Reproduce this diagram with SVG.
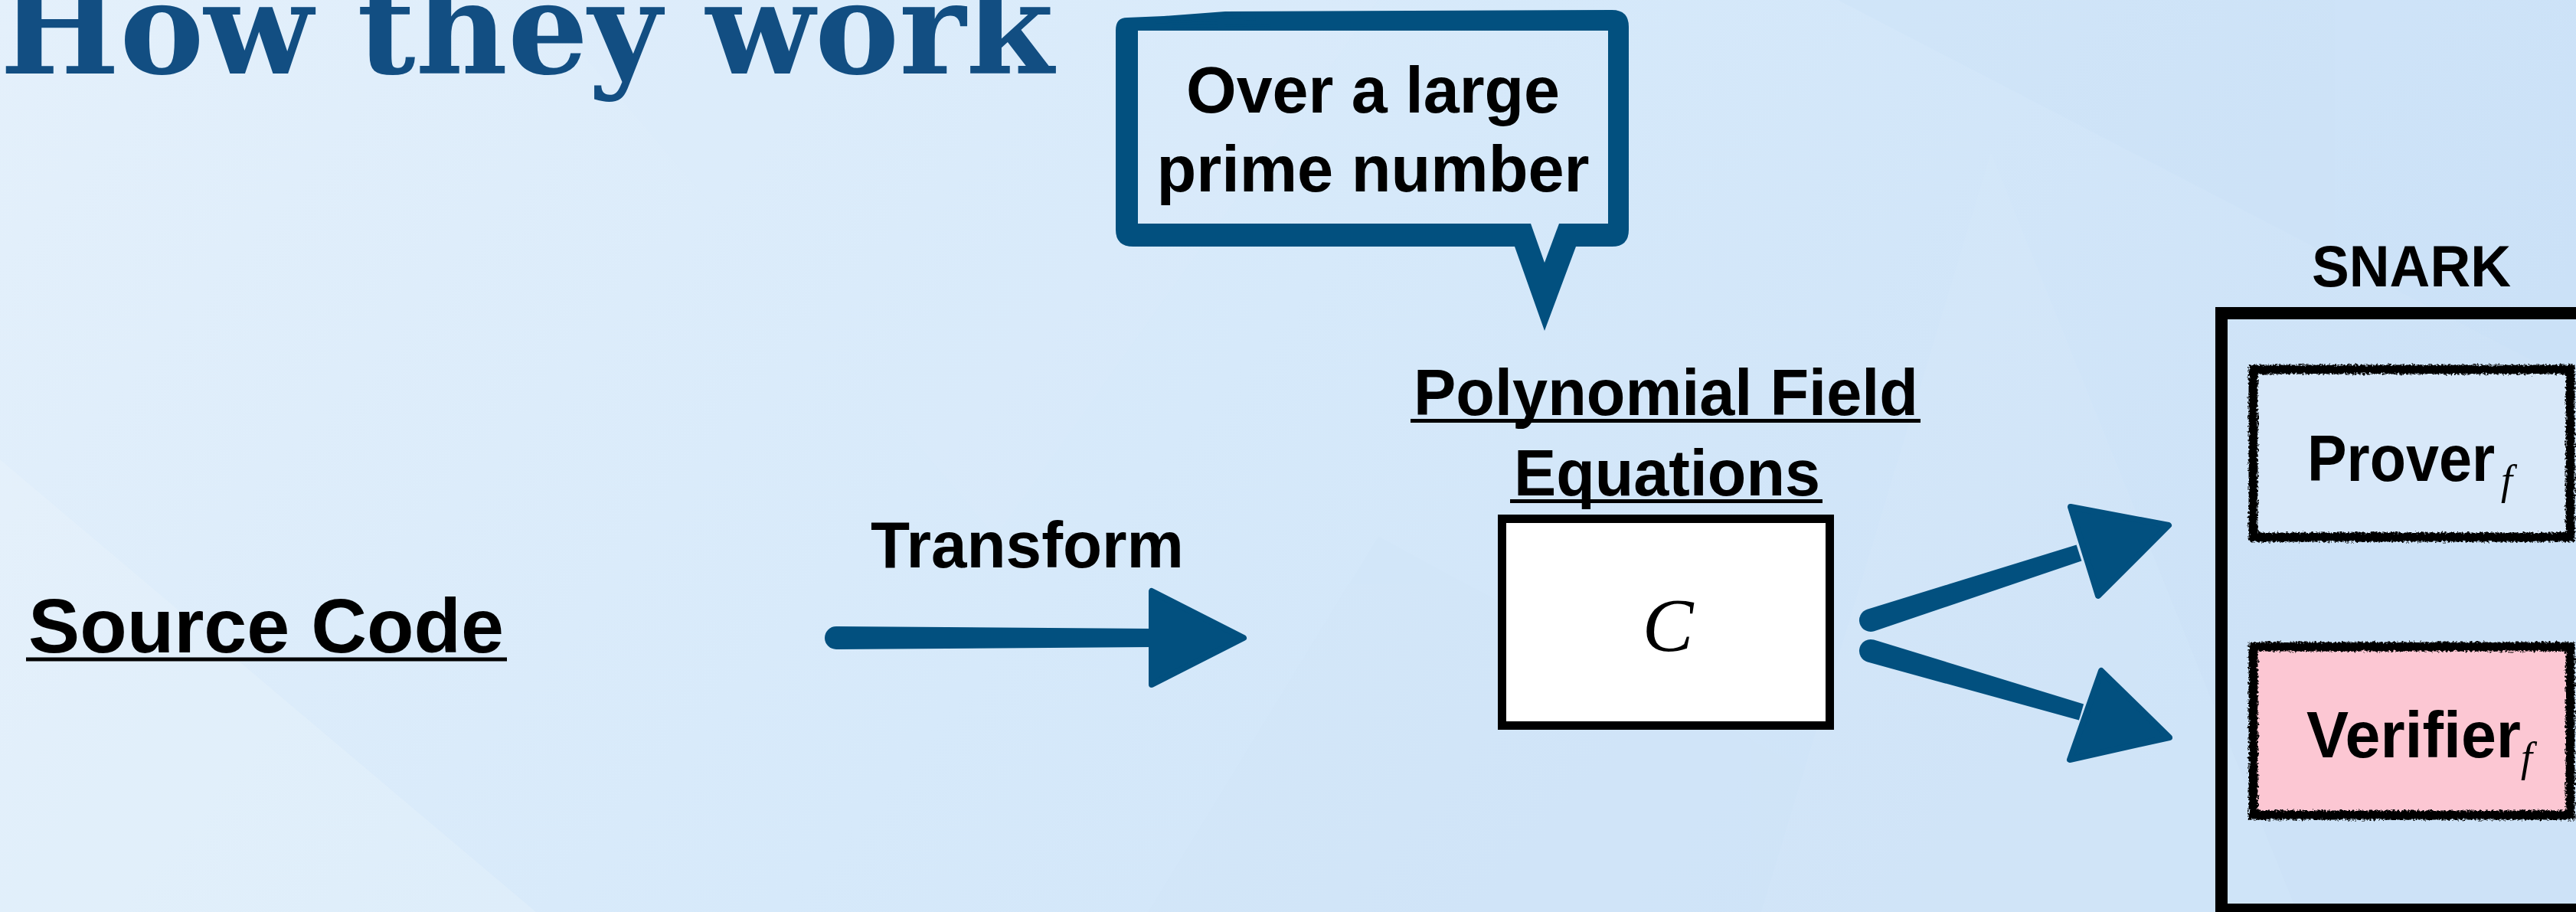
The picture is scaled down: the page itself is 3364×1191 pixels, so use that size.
<svg xmlns="http://www.w3.org/2000/svg" width="3364" height="1191" viewBox="0 0 3364 1191">
  <style>
    .lbl { font-family: "Liberation Sans", Arial, sans-serif; font-weight: bold; fill: #000; }
    .math { font-family: "Liberation Serif", "Times New Roman", serif; font-style: italic; fill: #000; }
    .ul { stroke: #000; stroke-width: 5; }
    .ink { fill: #02507f; }
    .head { fill: #02507f; stroke: #02507f; stroke-width: 8; stroke-linejoin: round; }
    .rough { stroke: #000; stroke-width: 12; filter: url(#rough); }
  </style>
  <defs>
    <linearGradient id="bg" x1="0" y1="0" x2="1" y2="0.3">
      <stop offset="0" stop-color="#e4f0fb"/>
      <stop offset="0.55" stop-color="#d6e9fa"/>
      <stop offset="1" stop-color="#cde2f7"/>
    </linearGradient>
    <filter id="rough" x="-5%" y="-5%" width="110%" height="110%">
      <feTurbulence type="fractalNoise" baseFrequency="0.35" numOctaves="2" seed="3" result="n"/>
      <feDisplacementMap in="SourceGraphic" in2="n" scale="7" xChannelSelector="R" yChannelSelector="G"/>
    </filter>
  </defs>

  <!-- background -->
  <rect width="3364" height="1191" fill="url(#bg)"/>
  <g opacity="0.25">
    <polygon points="0,600 700,1191 0,1191" fill="#eef6fd"/>
    <polygon points="700,0 1800,0 1300,700" fill="#dcecfb"/>
    <polygon points="2400,0 3364,0 3364,500" fill="#c8e0f7"/>
    <polygon points="1800,700 2700,1191 1500,1191" fill="#d0e4f7"/>
    <polygon points="2600,200 3000,1191 2300,1191" fill="#d9eafa"/>
  </g>

  <!-- title -->
  <g id="title">
    <text x="0" y="96" font-family="'DejaVu Serif', 'Liberation Serif', serif" font-weight="bold" font-size="166" fill="#124e82" textLength="1376" lengthAdjust="spacingAndGlyphs">How they work</text>
  </g>

  <!-- speech bubble -->
  <g id="bubble">
    <path class="ink" fill-rule="evenodd" d="M1457,40 C1457,28 1462,23 1472,23 L1520,21 L1600,15 L2105,13 Q2127,13 2127,35 L2127,300 Q2127,322 2105,322 L2058,322 L2017,432 L1978,322 L1480,322 Q1457,322 1457,300 Z M1486,40 L2100,40 L2100,292 L2036,292 L2017,343 L1999,292 L1486,292 Z"/>
    <g stroke="#02507f" stroke-width="3" fill="none">
      <path d="M1505,24 L1620,18"/>
      <path d="M1510,29 L1640,25"/>
      <path d="M1530,34 L1660,33"/>
    </g>
    <text class="lbl" x="1793" y="147" font-size="85" text-anchor="middle" textLength="488" lengthAdjust="spacingAndGlyphs">Over a large</text>
    <text class="lbl" x="1793" y="250" font-size="85" text-anchor="middle" textLength="565" lengthAdjust="spacingAndGlyphs">prime number</text>
  </g>

  <!-- source code -->
  <g id="source-code">
    <text class="lbl" x="37" y="852" font-size="100" textLength="621" lengthAdjust="spacingAndGlyphs">Source Code</text>
    <line class="ul" x1="34" y1="861" x2="662" y2="861"/>
  </g>

  <!-- transform label -->
  <g id="transform-label">
    <text class="lbl" x="1137" y="741" font-size="86" textLength="409" lengthAdjust="spacingAndGlyphs">Transform</text>
  </g>

  <!-- polynomial field equations -->
  <g id="polynomial">
    <text class="lbl" x="1846" y="542" font-size="85" textLength="659" lengthAdjust="spacingAndGlyphs">Polynomial Field</text>
    <line class="ul" x1="1842" y1="549.5" x2="2508" y2="549.5"/>
    <text class="lbl" x="1977" y="647" font-size="85" textLength="400" lengthAdjust="spacingAndGlyphs">Equations</text>
    <line class="ul" x1="1972" y1="654.5" x2="2380" y2="654.5"/>
  </g>

  <!-- circuit box -->
  <g id="circuit">
    <rect x="1961.5" y="677.5" width="428" height="270" fill="#ffffff" stroke="#000" stroke-width="11"/>
    <text class="math" x="2178" y="850" font-size="100" text-anchor="middle">C</text>
  </g>

  <!-- SNARK -->
  <g id="snark">
    <text class="lbl" x="3149" y="374" font-size="76" text-anchor="middle" textLength="260" lengthAdjust="spacingAndGlyphs">SNARK</text>
    <rect x="2901" y="409" width="620" height="779" fill="none" stroke="#000" stroke-width="16"/>
  </g>

  <g id="prover">
    <rect x="2942.5" y="482.5" width="414" height="219" fill="#d8e8f9"/>
    <rect class="rough" x="2942.5" y="482.5" width="414" height="219" fill="none"/>
    <text class="lbl" x="3013" y="628" font-size="85" textLength="245" lengthAdjust="spacingAndGlyphs">Prover</text>
    <text class="math" x="3266" y="645" font-size="54">f</text>
  </g>

  <g id="verifier">
    <rect x="2942.5" y="844.5" width="414" height="220" fill="#fcc7d3"/>
    <rect class="rough" x="2942.5" y="844.5" width="414" height="220" fill="none"/>
    <text class="lbl" x="3012" y="989" font-size="85" textLength="280" lengthAdjust="spacingAndGlyphs">Verifier</text>
    <text class="math" x="3292" y="1007" font-size="54">f</text>
  </g>

  <!-- connectors -->
  <g id="connectors">
    <g id="arrow-transform">
      <path class="ink" d="M1092,818 L1505,821 L1505,845 L1092,848 A15,15 0 0 1 1092,818 Z"/>
      <polygon class="head" points="1504,772 1504,894 1624,833"/>
    </g>
    <g id="arrow-prover">
      <path class="ink" d="M2438.4,795.7 L2711.6,711.5 L2718.4,732.5 L2447.6,824.3 A15,15 0 0 1 2438.4,795.7 Z"/>
      <polygon class="head" points="2704,662 2740,778 2832,686"/>
    </g>
    <g id="arrow-verifier">
      <path class="ink" d="M2447.2,835.6 L2721.1,919.4 L2714.9,940.6 L2438.8,864.4 A15,15 0 0 1 2447.2,835.6 Z"/>
      <polygon class="head" points="2744,876 2703,992 2833,963"/>
    </g>
  </g>
</svg>
